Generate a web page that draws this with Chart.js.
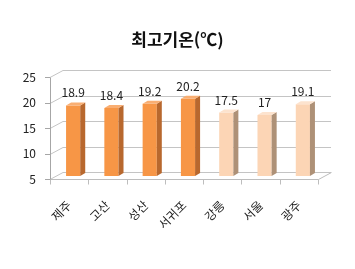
<!DOCTYPE html>
<html lang="ko">
<head>
<meta charset="UTF-8">
<title>최고기온</title>
<script src="https://cdn.jsdelivr.net/npm/chart.js"></script>
<style>
  html, body { margin: 0; padding: 0; background: #fff; }
  #wrap { width: 355px; height: 269px; }
</style>
</head>
<body>
<div id="wrap"><canvas id="tempChart" width="355" height="269"></canvas></div>
<script>
// data
const cities = ['제주', '고산', '성산', '서귀포', '강릉', '서울', '광주'];
const maxTemps = [18.9, 18.4, 19.2, 20.2, 17.5, 17, 19.1];
const regions = ['jeju', 'jeju', 'jeju', 'jeju', 'mainland', 'mainland', 'mainland'];
const yTicks = [5, 10, 15, 20, 25];

// look of the fake 3d
const FONT = "'Noto Sans CJK KR', 'Noto Sans', sans-serif";
const WALL_DX = 13, WALL_DY = -7;   // depth of back wall
const BAR_DX = 5, BAR_DY = -3;      // depth of one bar
const SHIFT_X = 4, SHIFT_Y = -3;    // bars sit a bit into the floor
const palette = {
  jeju:     { front: '#F79646', side: '#B8682E', top: '#F9AE72' },
  mainland: { front: '#FCD5B5', side: '#AE9177', top: '#FDE3CE' }
};

const depth3d = {
  id: 'depth3d',
  beforeDatasetsDraw(chart) {
    const { ctx, chartArea: a, scales: { y } } = chart;
    const px = v => Math.round(v) + 0.5;
    ctx.save();
    ctx.lineWidth = 1;

    // back wall + side wall grid
    ctx.strokeStyle = '#c4c4c4';
    yTicks.forEach(v => {
      const py = px(y.getPixelForValue(v));
      ctx.beginPath();
      ctx.moveTo(a.left, py);
      ctx.lineTo(a.left + WALL_DX, py + WALL_DY);
      ctx.lineTo(a.right + WALL_DX, py + WALL_DY);
      ctx.stroke();
    });

    // floor
    const fy = px(y.getPixelForValue(yTicks[0]));
    ctx.strokeStyle = '#bdbdbd';
    ctx.beginPath();
    ctx.moveTo(px(a.left), fy);
    ctx.lineTo(px(a.right), fy);
    ctx.lineTo(px(a.right) + WALL_DX, fy + WALL_DY);
    ctx.stroke();

    // category ticks
    const step = (a.right - a.left) / cities.length;
    for (let i = 0; i <= cities.length; i++) {
      const tx = px(a.left + i * step);
      ctx.beginPath();
      ctx.moveTo(tx, fy);
      ctx.lineTo(tx, fy + 5);
      ctx.stroke();
    }

    // value axis
    ctx.strokeStyle = '#a6a6a6';
    ctx.beginPath();
    ctx.moveTo(px(a.left), px(y.getPixelForValue(yTicks[yTicks.length - 1])));
    ctx.lineTo(px(a.left), fy);
    ctx.stroke();
    yTicks.forEach(v => {
      const py = px(y.getPixelForValue(v));
      ctx.beginPath();
      ctx.moveTo(a.left - 5, py);
      ctx.lineTo(a.left, py);
      ctx.stroke();
    });
    ctx.restore();

    ctx.save();
    ctx.translate(SHIFT_X, SHIFT_Y);
  },
  afterDatasetsDraw(chart) {
    const { ctx } = chart;
    const meta = chart.getDatasetMeta(0);
    meta.data.forEach((bar, i) => {
      const { x, y, base, width } = bar.getProps(['x', 'y', 'base', 'width'], true);
      const c = palette[regions[i]];
      const l = x - width / 2, r = x + width / 2;
      // side
      ctx.fillStyle = c.side;
      ctx.beginPath();
      ctx.moveTo(r, y);
      ctx.lineTo(r + BAR_DX, y + BAR_DY);
      ctx.lineTo(r + BAR_DX, base + BAR_DY);
      ctx.lineTo(r, base);
      ctx.closePath();
      ctx.fill();
      // top
      ctx.fillStyle = c.top;
      ctx.beginPath();
      ctx.moveTo(l, y);
      ctx.lineTo(l + BAR_DX, y + BAR_DY);
      ctx.lineTo(r + BAR_DX, y + BAR_DY);
      ctx.lineTo(r, y);
      ctx.closePath();
      ctx.fill();
    });
    ctx.restore();

    // value labels
    ctx.save();
    ctx.font = '12px ' + FONT;
    ctx.fillStyle = '#222';
    ctx.textAlign = 'center';
    ctx.textBaseline = 'middle';
    meta.data.forEach((bar, i) => {
      ctx.fillText(String(maxTemps[i]), bar.x + SHIFT_X, bar.y + SHIFT_Y - 12.5);
    });
    ctx.restore();
  }
};

new Chart(document.getElementById('tempChart'), {
  type: 'bar',
  data: {
    labels: cities,
    datasets: [{
      data: maxTemps,
      base: yTicks[0],
      backgroundColor: regions.map(g => palette[g].front),
      borderWidth: 0,
      barPercentage: 0.37,
      categoryPercentage: 1
    }]
  },
  options: {
    responsive: false,
    animation: false,
    devicePixelRatio: 1,
    layout: { padding: 0 },
    plugins: {
      legend: { display: false },
      tooltip: { enabled: false },
      title: {
        display: true,
        text: '최고기온(℃)',
        color: '#111',
        font: { family: FONT, size: 17, weight: 'bold' },
        padding: { top: 29, bottom: 28 }
      }
    },
    scales: {
      x: {
        grid: { display: false, drawTicks: false },
        border: { display: false },
        ticks: {
          color: '#222',
          font: { family: FONT, size: 12 },
          minRotation: 45,
          maxRotation: 45,
          padding: 19
        },
        afterFit: s => { s.height = 90; }
      },
      y: {
        min: 5,
        max: 25,
        grid: { display: false, drawTicks: false },
        border: { display: false },
        ticks: {
          stepSize: 5,
          color: '#222',
          font: { family: FONT, size: 12 },
          padding: 14
        },
        afterFit: s => { s.width = 50; }
      },
      // empty strip on the right so the title stays centred on the canvas
      gap: {
        type: 'linear',
        position: 'right',
        grid: { display: false, drawTicks: false },
        border: { display: false },
        ticks: { display: false },
        afterFit: s => { s.width = 37; }
      }
    }
  },
  plugins: [depth3d]
});
</script>
</body>
</html>
